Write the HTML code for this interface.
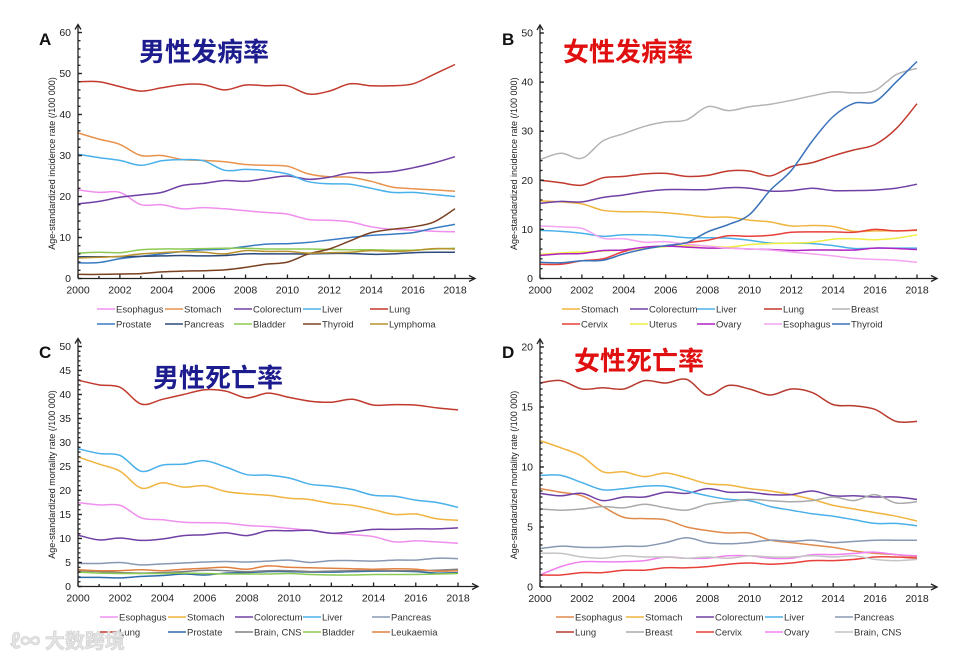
<!DOCTYPE html>
<html><head><meta charset="utf-8">
<style>
html,body{margin:0;padding:0;background:#fff;}
svg{display:block;font-family:"Liberation Sans","Noto Sans CJK SC",sans-serif;}
</style></head>
<body>
<svg id="chart" width="966" height="659" viewBox="0 0 966 659" xmlns="http://www.w3.org/2000/svg"></svg>
<script>
const years = [2000,2001,2002,2003,2004,2005,2006,2007,2008,2009,2010,2011,2012,2013,2014,2015,2016,2017,2018];
const xTickLabels = [2000,2002,2004,2006,2008,2010,2012,2014,2016,2018];

// Panel A: male incidence
const aNames = ["Esophagus","Stomach","Colorectum","Liver","Lung","Prostate","Pancreas","Bladder","Thyroid","Lymphoma"];
const aColors = ["#f090ee","#e8924c","#7040a4","#4ab0ea","#c23a2e","#3a7cc4","#2c4a7c","#8cca52","#7a4222","#b8922c"];
const aEsophagus = [21.6,21,21,18,18,17,17.3,17,16.5,16.1,15.7,14.4,14.2,13.8,12.6,12,11.8,11.5,11.4];
const aStomach = [35.5,34,32.7,30,30,29,28.8,28.5,27.8,27.6,27.4,25.5,24.8,24.7,23.7,22.3,21.9,21.6,21.3];
const aColorectum = [18.2,18.8,19.8,20.4,21,22.7,23.2,23.9,23.7,24.4,25,24.2,24.7,25.8,25.8,26.1,27,28.2,29.7];
const aLiver = [30.3,29.5,28.8,27.6,28.7,29,28.7,26.4,26.6,26.3,25.5,23.6,23.1,23,22,21,21,20.5,20];
const aLung = [48,48,46.8,45.7,46.5,47.3,47.3,46,47.2,47,47,45,45.7,47.5,47,47,47.5,49.8,52.2];
const aProstate = [3.8,3.9,4.8,5.4,6,6.6,7,7.2,7.8,8.4,8.5,8.8,9.4,10,10.5,10.8,11.2,12.3,13.2];
const aPancreas = [5.3,5.3,5.3,5.4,5.5,5.6,5.5,5.6,6,6,6,6,6.1,6.1,5.9,6,6.3,6.4,6.4];
const aBladder = [6.2,6.4,6.3,7,7.2,7.2,7.3,7.4,7.4,7.2,7.2,7.2,7.1,7,7,6.9,6.9,7.2,7.4];
const aThyroid = [1,1,1.1,1.2,1.6,1.8,1.9,2.1,2.7,3.5,4,6,7.2,9.2,11.2,12,12.6,13.8,17];
const aLymphoma = [5,5.2,5.4,6,6.3,6.5,6.4,6,6.8,6.6,6.6,6.2,6.3,6.4,6.8,6.6,6.8,7.3,7.2];
const aYTicks = [0,10,20,30,40,50,60];

// Panel B: female incidence
const bNames = ["Stomach","Colorectum","Liver","Lung","Breast","Cervix","Uterus","Ovary","Esophagus","Thyroid"];
const bColors = ["#f0b440","#7040a4","#4ab0ea","#c23a2e","#b4b4b4","#e8403a","#eeee40","#b024c4","#f4a4f0","#3a72ba"];
const bStomach = [15.8,15.6,15.2,13.9,13.6,13.6,13.4,13,12.5,12.5,11.9,11.5,10.7,10.8,10.6,9.6,9.7,9.7,9.8];
const bColorectum = [15.3,15.7,15.6,16.5,17,17.7,18.1,18.1,18.1,18.5,18.4,17.8,17.9,18.4,17.9,17.9,18,18.4,19.2];
const bLiver = [9.8,9.6,9.2,8.6,8.9,8.9,8.7,8.3,8.3,8.2,7.8,7.2,7.2,7.1,6.7,6.1,6.2,6.2,6.2];
const bLung = [20,19.5,19,20.5,20.8,21.3,21.4,20.8,21,21.9,21.9,20.9,22.8,23.6,25,26.2,27.3,30.5,35.6];
const bBreast = [24.2,25.5,24.5,28,29.5,31,31.9,32.3,35,34.2,35,35.5,36.3,37.2,38,37.8,38.3,41.5,42.8];
const bCervix = [2.9,2.9,3.6,4,5.5,6.3,6.6,7.3,7.8,8.7,8.6,8.8,9.4,9.5,9.5,9.4,10,9.7,9.9];
const bUterus = [4.9,5.2,5.4,5.6,5.8,6.2,6.5,6.7,6.6,6.4,6.9,7.1,7.2,7.4,8,8.1,7.9,8.2,8.9];
const bOvary = [4.7,5,5.1,5.7,5.8,6.4,6.6,6.4,6.2,6.2,6,5.9,5.7,5.8,5.8,5.8,6.2,6.1,5.9];
const bEsophagus = [10.7,10.5,10.2,8.2,8.1,7.4,7.5,7,6.6,6.2,6,5.8,5.4,5,4.6,4.1,3.9,3.7,3.3];
const bThyroid = [3.3,3.2,3.6,3.7,5,6,6.7,7.3,9.5,11,13,18,22,28,33,35.7,36,40,44.2];
const bYTicks = [0,10,20,30,40,50];

// Panel C: male mortality
const cNames = ["Esophagus","Stomach","Colorectum","Liver","Pancreas","Lung","Prostate","Brain, CNS","Bladder","Leukaemia"];
const cColors = ["#f090ee","#f0b440","#7040a4","#4ab0ea","#8898b2","#c23a2e","#2c6aaa","#808080","#8cca52","#e08040"];
const cEsophagus = [17.5,17,16.9,14.3,13.9,13.4,13.3,13.2,12.7,12.5,12.1,11.7,11.1,10.8,10.4,9.3,9.5,9.3,9];
const cStomach = [27,25.5,24,20.5,21.6,20.7,21,19.8,19.3,19,18.4,18.1,17.3,16.9,16,15,15.1,14.1,13.8];
const cColorectum = [10.7,9.7,10.1,9.6,9.9,10.6,10.8,11.2,10.6,11.6,11.6,11.7,11.1,11.4,11.9,11.9,12,12,12.2];
const cLiver = [28.7,27.7,27.3,24,25.3,25.5,26.2,24.9,23.3,23.2,22.6,21.3,20.9,20.2,19,18.8,18,17.5,16.5];
const cPancreas = [4.8,4.8,5,4.5,4.7,4.9,5.1,5.2,5.1,5.3,5.5,5,5.4,5.4,5.3,5.5,5.5,5.9,5.8];
const cLung = [43,42,41.5,38,39,40,41,40.7,39.3,40.3,39.4,38.6,38.4,39,37.8,37.9,37.8,37.2,36.8];
const cProstate = [1.9,1.9,1.8,2.1,2.3,2.6,2.4,2.8,2.9,3.1,3.1,3,3,3.1,3.2,3.2,3.1,2.8,2.9];
const cBrain = [3.3,3.1,2.9,2.8,2.9,3.1,3.4,3.3,3.1,3.3,3.3,3.1,3.2,3.3,3.4,3.3,3.3,3.4,3.6];
const cBladder = [3,2.8,2.7,2.7,2.7,2.8,2.7,2.6,2.6,2.6,2.7,2.5,2.4,2.4,2.5,2.5,2.5,2.6,2.7];
const cLeukaemia = [3.5,3.3,3.3,3.5,3.3,3.6,3.8,4,3.6,4.3,4,3.9,3.8,3.7,3.6,3.7,3.6,3.2,3.3];
const cYTicks = [0,5,10,15,20,25,30,35,40,45,50];

// Panel D: female mortality
const dNames = ["Esophagus","Stomach","Colorectum","Liver","Pancreas","Lung","Breast","Cervix","Ovary","Brain, CNS"];
const dColors = ["#e08a4c","#f0b440","#7040a4","#4ab0ea","#8898b2","#b83a2e","#aaaaaa","#e8403a","#f080f0","#c4c4c4"];
const dEsophagus = [8.2,7.9,7.6,6.7,5.8,5.7,5.6,5,4.7,4.5,4.5,3.9,3.7,3.5,3.3,3,2.8,2.7,2.5];
const dStomach = [12.2,11.6,10.9,9.6,9.6,9.2,9.5,9.1,8.6,8.5,8.2,8,7.7,7.3,6.8,6.5,6.2,5.9,5.5];
const dColorectum = [7.8,7.6,7.8,7.2,7.5,7.5,7.9,7.8,8.2,7.9,7.9,7.7,7.7,8,7.6,7.6,7.5,7.5,7.3];
const dLiver = [9.3,9.3,8.7,8.1,8.2,8.4,8.4,8,7.6,7.3,7.2,6.7,6.4,6.1,5.9,5.6,5.3,5.3,5.1];
const dPancreas = [3.2,3.4,3.3,3.3,3.4,3.4,3.7,4.1,3.7,3.6,3.7,3.9,3.8,3.9,3.7,3.8,3.9,3.9,3.9];
const dLung = [17,17.2,16.5,16.6,16.5,17.2,17,17.3,16,16.8,16.5,16,16.5,16.2,15.2,15.1,14.8,13.8,13.8];
const dBreast = [6.5,6.4,6.5,6.7,6.6,6.9,6.6,6.4,6.9,7.1,7.3,7.2,7.1,7.2,7.5,7.2,7.7,7,7.1];
const dCervix = [1,1,1.2,1.2,1.4,1.4,1.6,1.6,1.7,1.9,2,1.9,2,2.2,2.2,2.3,2.5,2.5,2.4];
const dOvary = [1,1.7,2.1,2.1,2.1,2.2,2.5,2.4,2.4,2.6,2.6,2.4,2.4,2.7,2.7,2.8,2.9,2.7,2.6];
const dBrain = [2.8,2.8,2.5,2.4,2.6,2.5,2.5,2.4,2.5,2.4,2.6,2.5,2.5,2.6,2.5,2.6,2.3,2.2,2.3];
const dYTicks = [0,5,10,15,20];

const NS = "http://www.w3.org/2000/svg";
const svg = document.getElementById("chart");
function mk(tag, attrs, parent, text){
  const e = document.createElementNS(NS, tag);
  for (const k in attrs) e.setAttribute(k, attrs[k]);
  if (text !== undefined) e.textContent = text;
  (parent || svg).appendChild(e);
  return e;
}
function smoothPath(pts){
  let d = "M" + pts[0][0].toFixed(1) + "," + pts[0][1].toFixed(1);
  for (let i = 0; i < pts.length - 1; i++){
    const p0 = pts[i-1] || pts[i], p1 = pts[i], p2 = pts[i+1], p3 = pts[i+2] || p2;
    const c1x = p1[0] + (p2[0]-p0[0])/6, c1y = p1[1] + (p2[1]-p0[1])/6;
    const c2x = p2[0] - (p3[0]-p1[0])/6, c2y = p2[1] - (p3[1]-p1[1])/6;
    d += " C" + c1x.toFixed(1) + "," + c1y.toFixed(1) + " " + c2x.toFixed(1) + "," + c2y.toFixed(1) + " " + p2[0].toFixed(1) + "," + p2[1].toFixed(1);
  }
  return d;
}

function panel(cfg){
  const g = mk("g", {});
  
  
  const yMax = cfg.yTicks[cfg.yTicks.length-1];
  const xs = v => cfg.x0 + (v - 2000) / 18 * (cfg.x1 - cfg.x0);
  const ys = v => cfg.y0 - v / yMax * (cfg.y0 - cfg.yTop);

  // letter
  const letter = mk("text", {x: cfg.letterX, y: cfg.letterY, "font-size": 17, "font-weight": "bold", fill: "#111"}, g, cfg.letter);
  
  

  // series lines
  cfg.series.forEach((vals, i) => {
    const pts = vals.map((v, j) => [xs(years[j]), ys(v)]);
    const p = mk("path", {d: smoothPath(pts), fill: "none", stroke: cfg.colors[i], "stroke-width": 1.5}, g);
    
    
  });

  // axes
  const axes = mk("g", {stroke: "#222", "stroke-width": 1.3, fill: "none"}, g);
  
  
  mk("line", {x1: cfg.x0, y1: cfg.y0, x2: cfg.x0, y2: cfg.yTop - 8}, axes);
  mk("polyline", {points: (cfg.x0-3)+","+(cfg.yTop-3)+" "+cfg.x0+","+(cfg.yTop-8)+" "+(cfg.x0+3)+","+(cfg.yTop-3)}, axes);
  mk("line", {x1: cfg.x0, y1: cfg.y0, x2: cfg.x1 + 20, y2: cfg.y0}, axes);
  mk("polyline", {points: (cfg.x1+14)+","+(cfg.y0-3)+" "+(cfg.x1+20)+","+cfg.y0+" "+(cfg.x1+14)+","+(cfg.y0+3)}, axes);
  years.forEach(y => mk("line", {x1: xs(y), y1: cfg.y0, x2: xs(y), y2: cfg.y0 - (y % 2 === 0 ? 4 : 2.5)}, axes));
  const minorStep = cfg.yMinor;
  for (let v = 0; v <= yMax + 1e-9; v += minorStep) mk("line", {x1: cfg.x0, y1: ys(v), x2: cfg.x0 + 2.5, y2: ys(v)}, axes);
  cfg.yTicks.forEach(v => mk("line", {x1: cfg.x0, y1: ys(v), x2: cfg.x0 + 4, y2: ys(v)}, axes));

  // tick labels
  xTickLabels.forEach(y => {
    const t = mk("text", {x: xs(y), y: cfg.y0 + 15, "font-size": 10.5, "text-anchor": "middle", fill: "#222"}, g, String(y));
    
    
  });
  cfg.yTicks.forEach(v => {
    const t = mk("text", {x: cfg.x0 - 7, y: ys(v) + 3.5, "font-size": 10.5, "text-anchor": "end", fill: "#222"}, g, String(v));
    
    
  });
  const yt = mk("text", {x: 0, y: 0, "font-size": 9, "text-anchor": "middle", fill: "#222",
    transform: "translate(" + cfg.yTitleX + "," + ((cfg.y0 + cfg.yTop) / 2 + 8) + ") rotate(-90)"}, g, cfg.yTitle);
  
  

  // chinese title
  const ct = mk("text", {x: cfg.titleX, y: cfg.titleY, "font-size": 26, "font-weight": "bold", fill: cfg.titleColor,
    "font-family": "'Noto Sans CJK SC','WenQuanYi Zen Hei',sans-serif"}, g, cfg.title);
  
  

  // legend
  cfg.names.forEach((n, i) => {
    const col = i % 5, row = Math.floor(i / 5);
    const lx = cfg.legX[col], ly = cfg.legY + row * 15;
    const le = mk("g", {}, g);
    
    
    mk("line", {x1: lx, y1: ly, x2: lx + 18, y2: ly, stroke: cfg.colors[i], "stroke-width": 1.6}, le);
    mk("text", {x: lx + 19, y: ly + 3.5, "font-size": 9.5, fill: "#333"}, le, n);
  });
}

panel({id: "male-incidence", letter: "A", letterX: 39, letterY: 45, x0: 78, x1: 455, y0: 278.5, yTop: 32.5, yMinor: 2,
  yTicks: aYTicks, names: aNames, colors: aColors,
  series: [aEsophagus,aStomach,aColorectum,aLiver,aLung,aProstate,aPancreas,aBladder,aThyroid,aLymphoma],
  yTitle: "Age-standardized incidence rate (/100 000)", yTitleX: 55,
  title: "男性发病率", titleX: 139, titleY: 61, titleColor: "#1c1c8e",
  legX: [97, 165, 234, 303, 370], legY: 309});

panel({id: "female-incidence", letter: "B", letterX: 502, letterY: 45, x0: 540, x1: 917, y0: 278.5, yTop: 33, yMinor: 2,
  yTicks: bYTicks, names: bNames, colors: bColors,
  series: [bStomach,bColorectum,bLiver,bLung,bBreast,bCervix,bUterus,bOvary,bEsophagus,bThyroid],
  yTitle: "Age-standardized incidence rate (/100 000)", yTitleX: 517,
  title: "女性发病率", titleX: 563, titleY: 61, titleColor: "#e01010",
  legX: [562, 630, 697, 764, 832], legY: 309});

panel({id: "male-mortality", letter: "C", letterX: 39, letterY: 358, x0: 78, x1: 458, y0: 586.5, yTop: 346.5, yMinor: 1,
  yTicks: cYTicks, names: cNames, colors: cColors,
  series: [cEsophagus,cStomach,cColorectum,cLiver,cPancreas,cLung,cProstate,cBrain,cBladder,cLeukaemia],
  yTitle: "Age-standardized mortality rate (/100 000)", yTitleX: 55,
  title: "男性死亡率", titleX: 153, titleY: 387, titleColor: "#1c1c8e",
  legX: [100, 168, 235, 303, 372], legY: 617});

panel({id: "female-mortality", letter: "D", letterX: 502, letterY: 358, x0: 540, x1: 917, y0: 587, yTop: 347, yMinor: 0.5,
  yTicks: dYTicks, names: dNames, colors: dColors,
  series: [dEsophagus,dStomach,dColorectum,dLiver,dPancreas,dLung,dBreast,dCervix,dOvary,dBrain],
  yTitle: "Age-standardized mortality rate (/100 000)", yTitleX: 517,
  title: "女性死亡率", titleX: 574, titleY: 370, titleColor: "#e01010",
  legX: [556, 626, 696, 765, 835], legY: 617});

const wm = mk("text", {x: 10, y: 648, "font-size": 20, "font-weight": "bold", fill: "#e4e4e4", stroke: "#cfcfcf", "stroke-width": 0.6,
  "font-family": "'Noto Sans CJK SC','WenQuanYi Zen Hei',sans-serif"}, svg, "ℓ∞ 大数跨境");


</script>
</body></html>
